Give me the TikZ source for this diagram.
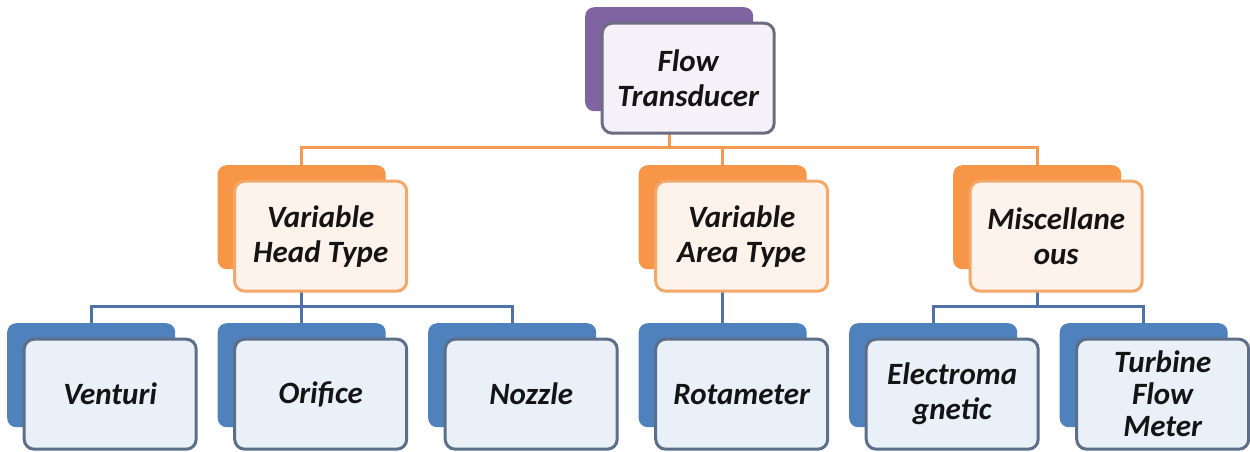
\documentclass[tikz,border=0pt]{standalone}
\usepackage{fontspec}
\setmainfont{Carlito}
\usetikzlibrary{calc}
\definecolor{purpleback}{HTML}{8064A2}
\definecolor{purplefront}{HTML}{F4F2F8}
\definecolor{purpleline}{HTML}{6E6C82}
\definecolor{orangeback}{HTML}{F79646}
\definecolor{orangefront}{HTML}{FEF3EA}
\definecolor{orangeline}{HTML}{F2A86A}
\definecolor{blueback}{HTML}{4F81BD}
\definecolor{bluefront}{HTML}{EAF0F8}
\definecolor{blueline}{HTML}{5C6E88}
\definecolor{orangecon}{HTML}{F59A50}
\definecolor{bluecon}{HTML}{4F73A6}
\tikzset{
  backbox/.style={rectangle, rounded corners=9pt, inner sep=0pt,
    minimum width=168pt, minimum height=104pt, anchor=north west},
  frontbox/.style={rectangle, rounded corners=10pt, inner sep=0pt, line width=3pt,
    minimum width=172pt, minimum height=110pt, align=center,
    font=\bfseries\itshape\fontsize{31}{35}\selectfont, text=black!92},
  bkP/.style={backbox, fill=purpleback},
  frP/.style={frontbox, fill=purplefront, draw=purpleline},
  bkO/.style={backbox, fill=orangeback},
  frO/.style={frontbox, fill=orangefront, draw=orangeline},
  bkB/.style={backbox, fill=blueback},
  frB/.style={frontbox, fill=bluefront, draw=blueline},
  conO/.style={draw=orangecon, line width=3pt},
  conB/.style={draw=bluecon, line width=3pt},
}
\begin{document}
\begin{tikzpicture}[x=1pt, y=-1pt]
\useasboundingbox (0,0) rectangle (1250,451);
% bus lines of the two connector levels
\coordinate (busA) at (0,147);
\coordinate (busB) at (0,306);

% back cards
\node[bkP] (ftB) at (585,7) {};
\node[bkO] (vhB) at (217.5,165) {};
\node[bkO] (vaB) at (638.5,165) {};
\node[bkO] (miB) at (953,165) {};
\node[bkB] (veB) at (7,323) {};
\node[bkB] (orB) at (217.5,323) {};
\node[bkB] (noB) at (428,323) {};
\node[bkB] (roB) at (638.5,323) {};
\node[bkB] (emB) at (849,323) {};
\node[bkB] (tuB) at (1059.5,323) {};

% connectors
\draw[conO] ($(ftB.south)+(0,10)$) -- (ftB.center |- busA);
\draw[conO] (vhB.north) -- (vhB.north |- busA) -| (miB.north);
\draw[conO] (vaB.north) -- (vaB.north |- busA);
\draw[conB] ($(vhB.south)+(0,10)$) -- (vhB.center |- busB);
\draw[conB] (veB.north) -- (veB.north |- busB) -| (noB.north);
\draw[conB] (orB.north) -- (orB.north |- busB);
\draw[conB] ($(vaB.south)+(0,10)$) -- (roB.north);
\draw[conB] ($(miB.south)+(0,10)$) -- (miB.center |- busB);
\draw[conB] (emB.north) -- (emB.north |- busB) -| (tuB.north);

% front cards
\node[frP] (ftF) at ($(ftB.center)+(19,19)$) {Flow\\Transducer};
\node[frO] (vhF) at ($(vhB.center)+(19,19)$) {Variable\\Head Type};
\node[frO] (vaF) at ($(vaB.center)+(19,19)$) {Variable\\Area Type};
\node[frO] (miF) at ($(miB.center)+(19,19)$) {Miscellane\\ous};
\node[frB] (veF) at ($(veB.center)+(19,19)$) {Venturi};
\node[frB] (orF) at ($(orB.center)+(19,19)$) {Orifice};
\node[frB] (noF) at ($(noB.center)+(19,19)$) {Nozzle};
\node[frB] (roF) at ($(roB.center)+(19,19)$) {Rotameter};
\node[frB] (emF) at ($(emB.center)+(19,19)$) {Electroma\\gnetic};
\node[frB, font=\bfseries\itshape\fontsize{31}{32}\selectfont] (tuF) at ($(tuB.center)+(19,19)$) {Turbine\\Flow\\Meter};
\end{tikzpicture}
\end{document}
